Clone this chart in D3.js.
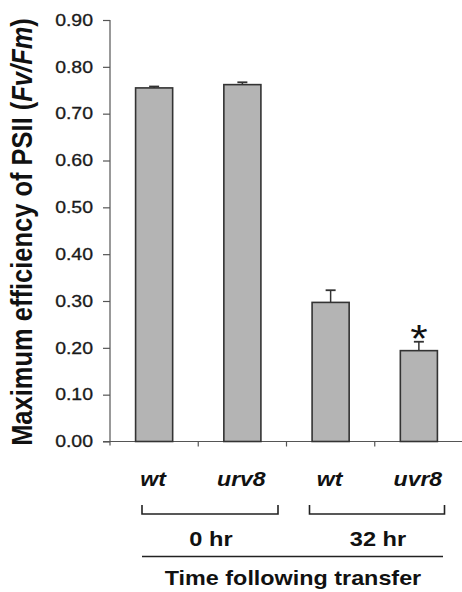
<!DOCTYPE html>
<html>
<head>
<meta charset="utf-8">
<script src="https://cdn.jsdelivr.net/npm/d3@7"></script>
<style>
  body { margin: 0; background: #fff; }
  text { font-family: "Liberation Sans", Arial, sans-serif; }
</style>
</head>
<body>
<div id="chart-area"></div>
<script>
// values
let categories = ["wt", "urv8", "wt", "uvr8"];
let means = [0.755, 0.762, 0.297, 0.194];
let errors = [0.003, 0.005, 0.026, 0.019];
let significant = [false, false, false, true];
let groups = ["0 hr", "32 hr"];
let yTicks = [0, 0.1, 0.2, 0.3, 0.4, 0.5, 0.6, 0.7, 0.8, 0.9];

let width = 462, height = 592;
let margin = {top: 20, left: 110, right: 0, bottom: 151};
// the source figure is stretched sideways, so text is widened too
let sx = 1.18;

let svg = d3.select("#chart-area").append("svg")
	.attr("width", width)
	.attr("height", height);

let y = d3.scaleLinear()
	.domain([0, 0.9])
	.range([height - margin.bottom + 0.5, margin.top]);

let x = d3.scaleBand()
	.domain(d3.range(categories.length))
	.range([margin.left, margin.left + 353])
	.paddingInner(0.58)
	.paddingOuter(0.29);

// helper: stretched text at a point
function label(px, py, txt, size, opts) {
	opts = opts || {};
	let t = svg.append("text")
		.attr("transform", "translate(" + px + "," + py + ") scale(" + sx + ",1)")
		.attr("text-anchor", opts.anchor || "middle")
		.style("font-size", size + "px")
		.style("font-weight", opts.weight || "bold")
		.style("font-style", opts.italic ? "italic" : "normal")
		.attr("fill", "#111")
		.text(txt);
	return t;
}

// y axis
let yAxis = d3.axisLeft(y)
	.tickValues(yTicks)
	.tickFormat(d3.format(".2f"))
	.tickSize(7)
	.tickPadding(10);
let gy = svg.append("g")
	.attr("transform", "translate(" + margin.left + ",0)")
	.call(yAxis);
gy.select(".domain").attr("stroke", "#555").attr("stroke-width", 1.2)
	.attr("d", "M0," + y(0.9) + "V" + (y(0) + 4));
gy.selectAll(".tick line").attr("stroke", "#555").attr("stroke-width", 1.2);
gy.selectAll(".tick text")
	.attr("fill", "#1a1a1a")
	.attr("stroke", "#1a1a1a")
	.attr("stroke-width", 0.3)
	.attr("x", -17 / sx)
	.attr("transform", "scale(" + sx + ",1)")
	.style("font-size", "16.5px");

// x axis baseline with ticks at category boundaries
let step = x.step();
let xb = svg.append("g");
xb.append("line")
	.attr("x1", margin.left - 7).attr("x2", width)
	.attr("y1", y(0)).attr("y2", y(0))
	.attr("stroke", "#555").attr("stroke-width", 1.2);
xb.selectAll(".xtick").data(d3.range(1, categories.length))
	.enter().append("line")
	.attr("class", "xtick")
	.attr("x1", i => margin.left + i * step)
	.attr("x2", i => margin.left + i * step)
	.attr("y1", y(0)).attr("y2", y(0) + 5)
	.attr("stroke", "#555").attr("stroke-width", 1.2);

// error bars (drawn first so bar covers lower half)
let cx = i => x(i) + x.bandwidth() / 2;
svg.selectAll(".err").data(means)
	.enter().append("line")
	.attr("x1", (d, i) => cx(i)).attr("x2", (d, i) => cx(i))
	.attr("y1", d => y(d)).attr("y2", (d, i) => y(d + errors[i]))
	.attr("stroke", "#333").attr("stroke-width", 1.5);
svg.selectAll(".cap").data(means)
	.enter().append("line")
	.attr("x1", (d, i) => cx(i) - 5).attr("x2", (d, i) => cx(i) + 5)
	.attr("y1", (d, i) => y(d + errors[i])).attr("y2", (d, i) => y(d + errors[i]))
	.attr("stroke", "#333").attr("stroke-width", 1.8);

// bars
svg.selectAll(".bar").data(means)
	.enter().append("rect")
	.attr("class", "bar")
	.attr("x", (d, i) => x(i))
	.attr("width", x.bandwidth())
	.attr("y", d => y(d))
	.attr("height", d => y(0) - y(d))
	.attr("fill", "#b4b4b4")
	.attr("stroke", "#333")
	.attr("stroke-width", 1.6);

// significance mark
means.forEach((d, i) => {
	if (significant[i]) label(cx(i), y(d + errors[i]) + 10, "*", 38, {weight: "normal"});
});

// category labels
categories.forEach((c, i) => label(cx(i) - 1, 486, c, 19.5, {italic: true}));

// group brackets
let brackets = [[margin.left + 32, margin.left + 168], [margin.left + 2 * step + 23, margin.left + 2 * step + 158]];
groups.forEach((g, k) => {
	let x0 = brackets[k][0], x1 = brackets[k][1];
	svg.append("path")
		.attr("d", "M" + x0 + ",505V514H" + x1 + "V505")
		.attr("fill", "none")
		.attr("stroke", "#222")
		.attr("stroke-width", 1.6);
	label((x0 + x1) / 2 + 1, 546, g, 20);
});

svg.append("line")
	.attr("x1", 142).attr("x2", 443)
	.attr("y1", 556.5).attr("y2", 556.5)
	.attr("stroke", "#222").attr("stroke-width", 1.6);

label(293, 585, "Time following transfer", 19.8);

// y label
let yl = svg.append("text")
	.attr("transform", "translate(32,232) scale(" + sx + ",1) rotate(-90)")
	.attr("text-anchor", "middle")
	.style("font-size", "25.5px")
	.style("font-weight", "bold")
	.attr("fill", "#111");
yl.append("tspan").text("Maximum efficiency of PSII (");
yl.append("tspan").style("font-style", "italic").text("Fv/Fm");
yl.append("tspan").text(")");
</script>
</body>
</html>
